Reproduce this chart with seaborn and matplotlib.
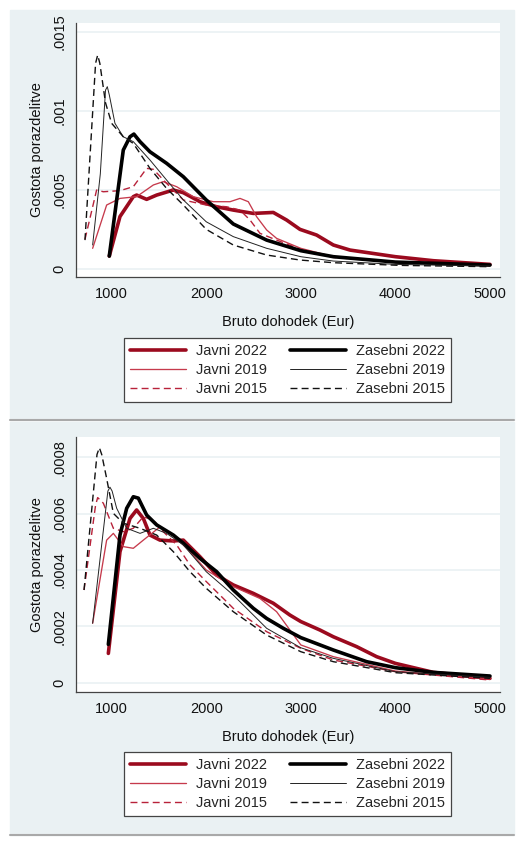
import pandas as pd
import matplotlib.pyplot as plt
import seaborn as sns
from matplotlib.patches import Rectangle
from matplotlib.lines import Line2D
from matplotlib.ticker import FuncFormatter

sns.set_style("white")
plt.rcParams['font.family'] = ['Liberation Sans', 'DejaVu Sans']

W, H = 523, 844

# --- zgornji graf (odčitane točke gostote) ---
top_jav22_x = [975, 1088, 1229, 1264, 1370, 1476, 1652, 1758, 1934, 2110, 2286, 2498, 2709, 2850, 2991, 3167, 3344, 3520, 4000, 4401, 5000]
top_jav22_y = [0.00008, 0.00033, 0.000456, 0.000466, 0.000439, 0.000466, 0.000498, 0.000481, 0.000424, 0.000392, 0.000371, 0.00035, 0.000356, 0.000308, 0.000249, 0.000213, 0.00015, 0.000118, 0.000076, 0.0000506, 0.0000274]
top_jav19_x = [799, 947, 1088, 1264, 1441, 1546, 1687, 1863, 2075, 2251, 2357, 2445, 2533, 2639, 2744, 3000, 3344, 4000, 5000]
top_jav19_y = [0.000129, 0.000403, 0.000445, 0.000456, 0.00053, 0.000551, 0.000519, 0.000456, 0.000424, 0.000424, 0.000445, 0.000424, 0.000329, 0.000245, 0.000192, 0.000129, 0.000076, 0.0000443, 0.0000232]
top_jav15_x = [718, 841, 912, 1088, 1229, 1370, 1441, 1581, 1758, 2000, 2216, 2357, 2463, 2568, 2744, 3000, 3344, 4000, 5000]
top_jav15_y = [0.000186, 0.000498, 0.000487, 0.000494, 0.000519, 0.000635, 0.000629, 0.00054, 0.000435, 0.000403, 0.000392, 0.000371, 0.000308, 0.000224, 0.000181, 0.000122, 0.0000717, 0.00004, 0.000019]
top_zas22_x = [975, 1053, 1123, 1194, 1235, 1300, 1405, 1581, 1758, 2000, 2286, 2639, 3000, 3344, 4000, 5000]
top_zas22_y = [0.00008, 0.000435, 0.000751, 0.000835, 0.000852, 0.000804, 0.00074, 0.000667, 0.000582, 0.000435, 0.000283, 0.000181, 0.000114, 0.000076, 0.000042, 0.0000232]
top_zas19_x = [799, 880, 935, 954, 975, 1035, 1123, 1229, 1405, 1581, 1758, 2000, 2286, 2639, 3000, 3344, 4000, 5000]
top_zas19_y = [0.00015, 0.0006, 0.00113, 0.001152, 0.0011, 0.00092, 0.000835, 0.000804, 0.000688, 0.000561, 0.000435, 0.000297, 0.000203, 0.000129, 0.000076, 0.0000485, 0.0000274, 0.0000169]
top_zas15_x = [718, 790, 830, 852, 875, 935, 1000, 1123, 1229, 1405, 1581, 1758, 2000, 2286, 2639, 2991, 3344, 4048, 5000]
top_zas15_y = [0.000181, 0.0009, 0.0013, 0.001352, 0.0013, 0.00105, 0.00092, 0.000835, 0.000793, 0.000635, 0.000508, 0.000403, 0.000249, 0.00015, 0.0000865, 0.000055, 0.000038, 0.000021, 0.0000127]

# --- spodnji graf ---
bot_jav22_x = [965, 1088, 1194, 1264, 1335, 1405, 1511, 1652, 1758, 1934, 2110, 2286, 2498, 2709, 2885, 3000, 3202, 3344, 3590, 3802, 4000, 4401, 5000]
bot_jav22_y = [0.000104, 0.000465, 0.000583, 0.000613, 0.000583, 0.000524, 0.000506, 0.000503, 0.000506, 0.000447, 0.000382, 0.000347, 0.000317, 0.000282, 0.00024, 0.000217, 0.000187, 0.000163, 0.000128, 0.0000923, 0.0000686, 0.0000367, 0.0000154]
bot_jav19_x = [799, 947, 1018, 1123, 1229, 1335, 1511, 1652, 1828, 2000, 2286, 2568, 2744, 3000, 3344, 4000, 5000]
bot_jav19_y = [0.000211, 0.000506, 0.00053, 0.000483, 0.000477, 0.000506, 0.000553, 0.000524, 0.000465, 0.0004, 0.000341, 0.000299, 0.000252, 0.000134, 0.0000923, 0.0000414, 0.000013]
bot_jav15_x = [708, 830, 852, 912, 1018, 1123, 1229, 1335, 1441, 1546, 1687, 1828, 2000, 2286, 2639, 3000, 3344, 4000, 5000]
bot_jav15_y = [0.000329, 0.00063, 0.000657, 0.000637, 0.000548, 0.000536, 0.000548, 0.000589, 0.000577, 0.000536, 0.000489, 0.000418, 0.000359, 0.000264, 0.000181, 0.000122, 0.0000805, 0.000039, 0.0000095]
bot_zas22_x = [965, 1088, 1159, 1229, 1282, 1370, 1476, 1652, 1758, 1934, 2110, 2286, 2498, 2639, 2815, 3000, 3344, 3696, 4000, 4401, 5000]
bot_zas22_y = [0.000136, 0.000524, 0.000619, 0.00066, 0.000655, 0.000595, 0.00056, 0.000524, 0.000495, 0.000441, 0.000394, 0.000329, 0.000264, 0.000228, 0.000193, 0.00016, 0.000116, 0.0000746, 0.0000533, 0.0000367, 0.0000237]
bot_zas19_x = [799, 960, 982, 1005, 1053, 1159, 1300, 1441, 1581, 1758, 2000, 2286, 2639, 3000, 3344, 4000, 5000]
bot_zas19_y = [0.000211, 0.00068, 0.000694, 0.00068, 0.000619, 0.000548, 0.00053, 0.000548, 0.00053, 0.000489, 0.000394, 0.000311, 0.000193, 0.000124, 0.0000864, 0.000039, 0.0000189]
bot_zas15_x = [708, 845, 870, 895, 947, 1018, 1123, 1300, 1476, 1652, 1828, 2000, 2286, 2639, 3000, 3344, 4000, 5000]
bot_zas15_y = [0.000329, 0.00081, 0.000834, 0.00081, 0.000725, 0.000601, 0.000566, 0.000548, 0.000524, 0.000465, 0.000394, 0.000335, 0.000252, 0.000169, 0.00011, 0.0000746, 0.0000355, 0.0000154]

labels = ["Javni 2022", "Javni 2019", "Javni 2015", "Zasebni 2022", "Zasebni 2019", "Zasebni 2015"]
top_series = [(top_jav22_x, top_jav22_y), (top_jav19_x, top_jav19_y), (top_jav15_x, top_jav15_y),
              (top_zas22_x, top_zas22_y), (top_zas19_x, top_zas19_y), (top_zas15_x, top_zas15_y)]
bot_series = [(bot_jav22_x, bot_jav22_y), (bot_jav19_x, bot_jav19_y), (bot_jav15_x, bot_jav15_y),
              (bot_zas22_x, bot_zas22_y), (bot_zas19_x, bot_zas19_y), (bot_zas15_x, bot_zas15_y)]

# barva, debelina, vrsta črte
styles = [("#9b0a1e", 2.6, "-"), ("#c63a4c", 0.95, "-"), ("#b8223a", 1.0, (0, (5, 3))),
          ("#000000", 2.6, "-"), ("#222222", 0.7, "-"), ("#111111", 1.0, (0, (5, 3)))]

bg = "#eaf1f3"
fig = plt.figure(figsize=(W / 100, H / 100), dpi=100)

# ozadje obeh panelov
for y0, y1 in [(10, 420), (422, 835)]:
    fig.add_artist(Rectangle((10 / W, 1 - y1 / H), 504 / W, (y1 - y0) / H,
                             transform=fig.transFigure, color=bg, zorder=-10))
    fig.add_artist(Line2D([10 / W, 514 / W], [1 - y1 / H, 1 - y1 / H],
                          transform=fig.transFigure, color="#a9a9a9", lw=1.5, zorder=-9))


def fmt(v, pos):
    if abs(v) < 1e-12:
        return "0"
    s = ("%.4f" % v).rstrip("0")
    return s[1:] if s.startswith("0") else s


def panel(rect, series, ylim, yticks, leg_top):
    ax = fig.add_axes(rect)
    ax.set_facecolor("white")
    for (xs, ys), lab, (c, lw, ls) in zip(series, labels, styles):
        df = pd.DataFrame({"x": xs, "y": ys})
        sns.lineplot(data=df, x="x", y="y", ax=ax, color=c, linewidth=lw,
                     linestyle=ls, label=lab, sort=False, estimator=None)
    for ln in ax.lines:
        ln.set_solid_joinstyle("round")
        ln.set_solid_capstyle("round")
    ax.set_xlim(623, 5106)
    ax.set_ylim(*ylim)
    ax.set_xticks([1000, 2000, 3000, 4000, 5000])
    ax.set_yticks(yticks)
    ax.yaxis.set_major_formatter(FuncFormatter(fmt))
    ax.grid(axis="y", color=bg, linewidth=1.2)
    ax.set_axisbelow(True)
    for s in ["top", "right"]:
        ax.spines[s].set_visible(False)
    for s in ["left", "bottom"]:
        ax.spines[s].set_color("#444444")
        ax.spines[s].set_linewidth(0.9)
    ax.tick_params(axis="both", direction="out", length=4, width=0.9, color="#444444",
                   labelsize=10.5, labelcolor="#111111", pad=3)
    for t in ax.get_yticklabels():
        t.set_rotation(90)
        t.set_va("center")
    ax.set_xlabel("Bruto dohodek (Eur)", fontsize=10.5, labelpad=10, color="#111111")
    ax.set_ylabel("Gostota porazdelitve", fontsize=10.5, labelpad=6, color="#111111")
    h, l = ax.get_legend_handles_labels()
    ax.legend_.remove()
    leg = fig.legend(h, l, ncol=2, loc="upper center",
                     bbox_to_anchor=(287.5 / W, 1 - leg_top / H),
                     fontsize=10.5, frameon=True, fancybox=False, framealpha=1,
                     edgecolor="#444444", handlelength=3.8, handletextpad=0.7,
                     columnspacing=1.6, labelspacing=0.35, borderpad=0.4)
    leg.get_frame().set_linewidth(0.9)
    return ax


panel([76 / W, 1 - 277 / H, 424 / W, 254 / H], top_series,
      (-0.0000525, 0.001555), [0, 0.0005, 0.001, 0.0015], 331)
panel([76 / W, 1 - 692 / H, 424 / W, 255 / H], bot_series,
      (-0.000033, 0.000872), [0, 0.0002, 0.0004, 0.0006, 0.0008], 745)

fig.savefig("out.png", dpi=100)
